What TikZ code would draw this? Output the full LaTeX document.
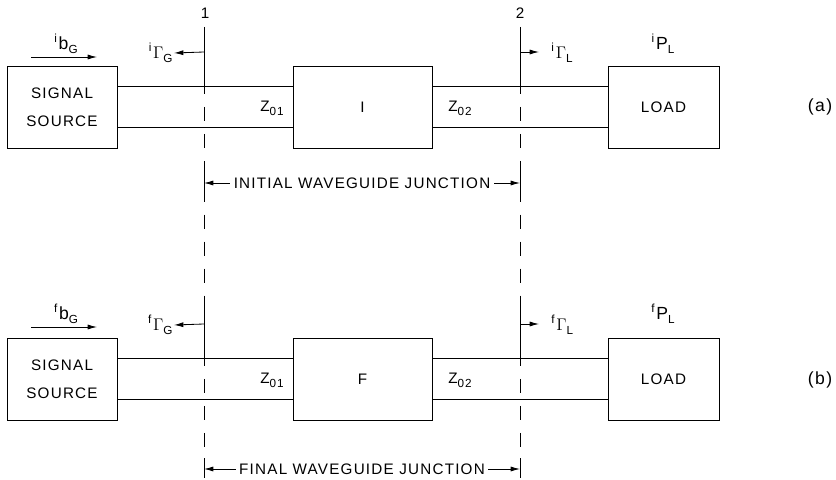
\documentclass[tikz,border=0pt]{standalone}
\usepackage{fontspec}
\setmainfont{Liberation Sans}[LetterSpace=8]
\usetikzlibrary{arrows.meta, positioning, calc}

% pre-superscript, symbol, subscript (i b_G style labels)
\newcommand{\wlab}[3]{{\fontsize{15}{15}\selectfont\raisebox{0.75ex}{\fontsize{10}{10}\selectfont #1}\hspace{1.5pt}#2\raisebox{-0.45ex}{\fontsize{10}{10}\selectfont #3}}}
\newcommand{\zlab}[1]{Z\raisebox{-0.5ex}{\fontsize{10}{10}\selectfont #1}}

\begin{document}
\begin{tikzpicture}[
    x=0.03cm, y=-0.03cm,
    font=\fontsize{13}{24}\selectfont,
    >={Latex[length=2.8mm, width=1.5mm]},
    box/.style={
        rectangle, draw, line width=0.8pt, minimum height=2.46cm,
        align=center, inner sep=0pt
    },
    line/.style={line width=0.8pt},
    arr/.style={->, line width=0.7pt},
    dim/.style={<->, line width=0.7pt},
    refdash/.style={line width=0.8pt, dash pattern=on 12pt off 11pt},
    lbl/.style={inner sep=1pt},
]
\useasboundingbox (0,0) rectangle (836,480);

% =====================================================================
% Reference planes 1 and 2 (solid near the arrows, dashed in between)
% =====================================================================
\node (p1) at (205,13) {1};
\node (p2) at (520,13) {2};
\draw[line] (204,27) -- (204,80);
\draw[refdash] (204,80) -- (204,298);
\draw[line] (204,170) -- (204,195);
\draw[line] (204,298) -- (204,352);
\draw[refdash] (204,352) -- (204,476);
\draw[line] (204,458) -- (204,478);

\draw[line] (520,27) -- (520,80);
\draw[refdash] (520,80) -- (520,298);
\draw[line] (520,170) -- (520,195);
\draw[line] (520,298) -- (520,352);
\draw[refdash] (520,352) -- (520,476);
\draw[line] (520,458) -- (520,478);

% =====================================================================
% (a) initial junction
% =====================================================================
\node[box, minimum width=3.3cm]  (srcA)  at (62,107)    {SIGNAL\\SOURCE};
\node[box, minimum width=4.17cm] (junA)  at (362.5,107) {I};
\node[box, minimum width=3.33cm] (loadA) at (663.5,107) {LOAD};

\draw[line] ([yshift=0.62cm]srcA.east)  -- ([yshift=0.62cm]junA.west);
\draw[line] ([yshift=-0.62cm]srcA.east) -- ([yshift=-0.62cm]junA.west);
\draw[line] ([yshift=0.62cm]junA.east)  -- ([yshift=0.62cm]loadA.west);
\draw[line] ([yshift=-0.62cm]junA.east) -- ([yshift=-0.62cm]loadA.west);

\node (z1A) at (272,108) {\zlab{01}};
\node (z2A) at (460,108) {\zlab{02}};

% --- wave amplitudes ---------------------------------------------------
\node[lbl] (bA) at (66,44) {\wlab{i}{b}{G}};
\coordinate (bAs) at (31,57);
\coordinate (bAe) at (97,57);
\draw[arr] (bAs) -- (bAe);

\coordinate (g1A) at (204,52);
\node[lbl, anchor=east] (gGA) at (174,53) {\wlab{i}{$\Gamma$}{G}};
\draw[arr] (g1A) -- (gGA.east);

\coordinate (g2A) at (520,52);
\coordinate (g2Ae) at (539,52);
\node[lbl, anchor=west] (gLA) at (550,53) {\wlab{i}{$\Gamma$}{L}};
\draw[arr] (g2A) -- (g2Ae);

\node[lbl] (pA) at (663,44) {\wlab{i}{P}{L}};
\node[font=\fontsize{15}{15}\selectfont] (capA) at (820,107) {(a)};

% --- junction extent ---------------------------------------------------
\coordinate (d1A) at (204,183);
\coordinate (d2A) at (520,183);
\draw[dim] (d1A) -- node[fill=white, inner sep=3pt]{INITIAL WAVEGUIDE JUNCTION} (d2A);

% =====================================================================
% (b) final junction
% =====================================================================
\node[box, minimum width=3.3cm]  (srcB)  at (62,379)    {SIGNAL\\SOURCE};
\node[box, minimum width=4.17cm] (junB)  at (362.5,379) {F};
\node[box, minimum width=3.33cm] (loadB) at (663.5,379) {LOAD};

\draw[line] ([yshift=0.62cm]srcB.east)  -- ([yshift=0.62cm]junB.west);
\draw[line] ([yshift=-0.62cm]srcB.east) -- ([yshift=-0.62cm]junB.west);
\draw[line] ([yshift=0.62cm]junB.east)  -- ([yshift=0.62cm]loadB.west);
\draw[line] ([yshift=-0.62cm]junB.east) -- ([yshift=-0.62cm]loadB.west);

\node (z1B) at (272,380) {\zlab{01}};
\node (z2B) at (460,380) {\zlab{02}};

% --- wave amplitudes ---------------------------------------------------
\node[lbl] (bB) at (66,314) {\wlab{f}{b}{G}};
\coordinate (bBs) at (31,327);
\coordinate (bBe) at (97,327);
\draw[arr] (bBs) -- (bBe);

\coordinate (g1B) at (204,324);
\node[lbl, anchor=east] (gGB) at (174,325) {\wlab{f}{$\Gamma$}{G}};
\draw[arr] (g1B) -- (gGB.east);

\coordinate (g2B) at (520,324);
\coordinate (g2Be) at (539,324);
\node[lbl, anchor=west] (gLB) at (550,325) {\wlab{f}{$\Gamma$}{L}};
\draw[arr] (g2B) -- (g2Be);

\node[lbl] (pB) at (663,314) {\wlab{f}{P}{L}};
\node[font=\fontsize{15}{15}\selectfont] (capB) at (820,380) {(b)};

% --- junction extent ---------------------------------------------------
\coordinate (d1B) at (204,469);
\coordinate (d2B) at (520,469);
\draw[dim] (d1B) -- node[fill=white, inner sep=3pt]{FINAL WAVEGUIDE JUNCTION} (d2B);

\end{tikzpicture}
\end{document}
